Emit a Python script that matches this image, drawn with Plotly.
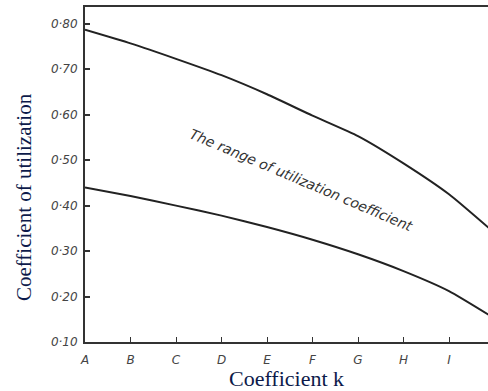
import plotly.graph_objects as go

categories = ["A", "B", "C", "D", "E", "F", "G", "H", "I", "J"]
upper_values = [0.787, 0.757, 0.723, 0.687, 0.645, 0.598, 0.553, 0.493, 0.425, 0.340]
lower_values = [0.440, 0.421, 0.400, 0.378, 0.353, 0.325, 0.293, 0.256, 0.212, 0.152]
y_ticks = [0.10, 0.20, 0.30, 0.40, 0.50, 0.60, 0.70, 0.80]
y_tick_labels = ["0·10", "0·20", "0·30", "0·40", "0·50", "0·60", "0·70", "0·80"]
annotation_text = "The range of utilization coefficient"
x_title = "Coefficient k"
y_title = "Coefficient of utilization"

xpos = list(range(len(categories)))

fig = go.Figure()
for vals in (upper_values, lower_values):
    fig.add_trace(go.Scatter(
        x=xpos, y=vals, mode="lines",
        line=dict(color="#222222", width=2, shape="spline", smoothing=0.5),
        showlegend=False, hoverinfo="skip",
    ))

fig.add_annotation(
    x=4.75, y=0.457, xref="x", yref="y",
    text=annotation_text, showarrow=False, textangle=23,
    font=dict(family="DejaVu Sans", size=14, color="#333333", style="italic"),
)
fig.add_annotation(
    x=1.0, y=0, xref="paper", yref="paper", xanchor="left", yanchor="top",
    text="J", showarrow=False, xshift=-2, yshift=-7,
    font=dict(family="DejaVu Sans", size=12, color="#444444", style="italic"),
)
fig.add_annotation(
    x=-0.151, y=0.433, xref="paper", yref="paper", xanchor="center", yanchor="middle",
    text=y_title, showarrow=False, textangle=-90,
    font=dict(family="Liberation Serif", size=21, color="#0d1a4a"),
)

fig.update_layout(
    width=488, height=391,
    margin=dict(l=85, r=0, t=7, b=49),
    paper_bgcolor="white", plot_bgcolor="white",
    xaxis=dict(
        range=[0, 8.857], tickmode="array", tickvals=xpos, ticktext=categories,
        showgrid=False, zeroline=False,
        showline=True, linecolor="#333333", linewidth=2, mirror=True,
        ticks="inside", ticklen=5, tickwidth=1, tickcolor="#333333",
        ticklabelstandoff=6,
        tickfont=dict(family="DejaVu Sans", size=12, color="#444444", style="italic"),
        title=dict(text=x_title, standoff=4,
                   font=dict(family="Liberation Serif", size=22, color="#0d1a4a")),
    ),
    yaxis=dict(
        range=[0.10, 0.837], tickmode="array", tickvals=y_ticks, ticktext=y_tick_labels,
        showgrid=False, zeroline=False,
        showline=True, linecolor="#333333", linewidth=2,
        ticks="inside", ticklen=5, tickwidth=1.5, tickcolor="#333333",
        ticklabelstandoff=3,
        tickfont=dict(family="DejaVu Sans", size=12, color="#444444", style="italic"),
    ),
)

fig.write_html("out.html", config={"displayModeBar": False},
               post_script="document.body.style.margin='0px';")
